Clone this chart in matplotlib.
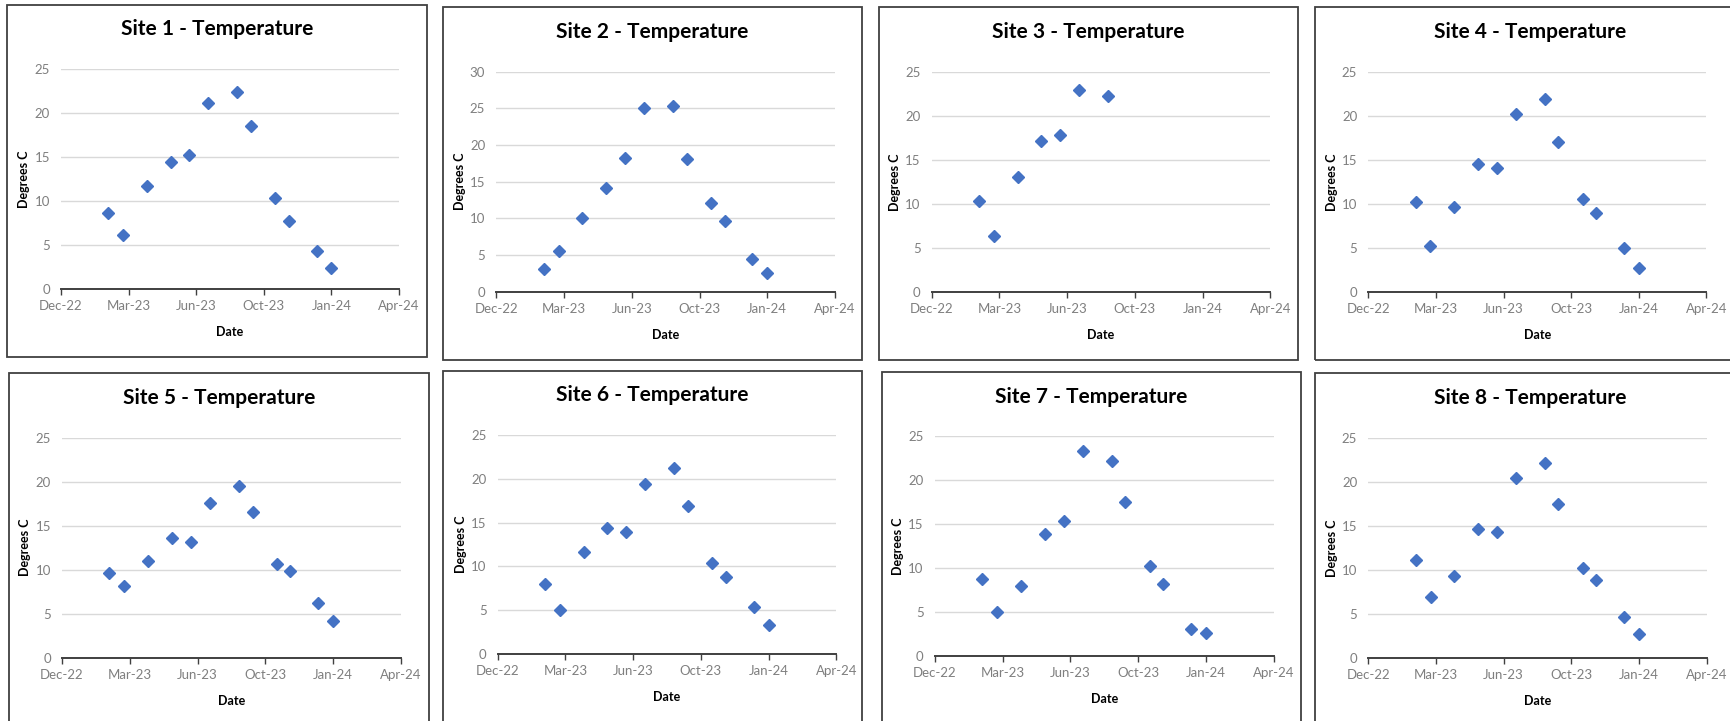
import numpy as np
import pandas as pd
import matplotlib
matplotlib.use('Agg')
import matplotlib.pyplot as plt
import matplotlib.dates as mdates
from matplotlib.patches import Rectangle

# --- data ---
dates = pd.to_datetime([
    '2023-02-13', '2023-03-07', '2023-04-11', '2023-05-16', '2023-06-13', '2023-07-11',
    '2023-08-23', '2023-09-12', '2023-10-18', '2023-11-07', '2023-12-18', '2024-01-09',
])

site1 = [8.6, 6.2, 11.7, 14.5, 15.2, 21.2, 22.4, 18.5, 10.4, 7.7, 4.3, 2.4]
site2 = [3.1, 5.6, 10.0, 14.1, 18.2, 25.0, 25.3, 18.1, 12.1, 9.7, 4.5, 2.6]
site3 = [10.3, 6.4, 13.1, 17.1, 17.8, 22.9, 22.2]
site4 = [10.2, 5.2, 9.7, 14.6, 14.1, 20.2, 21.9, 17.1, 10.6, 9.0, 5.0, 2.7]
site5 = [9.6, 8.1, 11.0, 13.6, 13.2, 17.6, 19.5, 16.6, 10.6, 9.8, 6.2, 4.2]
site6 = [8.0, 5.1, 11.7, 14.4, 13.9, 19.4, 21.2, 16.9, 10.4, 8.8, 5.4, 3.3]
site7 = [8.8, 5.0, 8.0, 13.9, 15.4, 23.3, 22.2, 17.5, 10.3, 8.2, 3.1, 2.7]
site8 = [11.1, 6.9, 9.3, 14.7, 14.3, 20.5, 22.2, 17.5, 10.2, 8.8, 4.6, 2.7]

sites = [site1, site2, site3, site4, site5, site6, site7, site8]
ymax = [25, 30, 25, 25, 25, 25, 25, 25]

# --- layout in pixels (left, top, right, bottom) for box and plot area ---
W, H = 1730, 721
boxes = [
    (7, 5, 427, 357), (443, 7, 862, 360), (879, 7, 1298, 360), (1315, 7, 1745, 360),
    (9, 373, 429, 735), (443, 371, 862, 735), (882, 372, 1301, 735), (1315, 373, 1745, 735),
]
plots = [  # x_left, x_right, y_zero, y_top
    (61, 399, 289, 69.3), (496.3, 835, 291.7, 71.7), (931.7, 1270.3, 292, 71.7),
    (1368.3, 1706.3, 292, 72), (62, 401, 657.7, 437.7), (497.7, 836.3, 654.3, 434.7),
    (934.7, 1273.7, 656.3, 436.3), (1368.3, 1706.7, 657.7, 438.3),
]
title_y = [29, 32, 32, 32, 397.7, 395, 396.7, 398.3]

BLUE = '#4472C4'
GREY_TXT = '#7f7f7f'
plt.rcParams['font.family'] = ['Lato', 'DejaVu Sans']

fig = plt.figure(figsize=(W / 100, H / 100), dpi=100)
fig.patch.set_facecolor('white')

xticks = pd.date_range('2022-12-05', periods=6, freq='100D')

for i, vals in enumerate(sites):
    bl, bt, br, bb = boxes[i]
    fig.patches.append(Rectangle((bl / W, 1 - bb / H), (br - bl) / W, (bb - bt) / H,
                                 transform=fig.transFigure, fill=False,
                                 edgecolor='#404040', linewidth=1.3))
    fig.text((bl + br) / 2 / W, 1 - title_y[i] / H, f'Site {i + 1} - Temperature',
             ha='center', va='center', fontsize=15, fontweight='bold', color='black')

    xl, xr, y0, yt = plots[i]
    ax = fig.add_axes([xl / W, 1 - y0 / H, (xr - xl) / W, (y0 - yt) / H])
    ax.plot(dates[:len(vals)], vals, linestyle='none', marker='D', markersize=6,
            color=BLUE, zorder=3)

    ax.set_xlim(xticks[0], xticks[-1])
    ax.set_ylim(0, ymax[i])
    ax.set_xticks(xticks)
    ax.xaxis.set_major_formatter(mdates.DateFormatter('%b-%y'))
    ax.set_yticks(np.arange(0, ymax[i] + 1, 5))
    ax.grid(axis='y', color='#d9d9d9', linewidth=1)
    ax.set_axisbelow(True)
    for s in ['top', 'right', 'left']:
        ax.spines[s].set_visible(False)
    ax.spines['bottom'].set_color('#404040')
    ax.spines['bottom'].set_linewidth(1.4)
    ax.tick_params(axis='x', colors='#404040', length=4, width=1, direction='out',
                   labelcolor=GREY_TXT, labelsize=9.5, pad=4)
    ax.tick_params(axis='y', length=0, labelcolor=GREY_TXT, labelsize=9.5, pad=8)
    ax.set_xlabel('Date', fontsize=9, fontweight='bold', labelpad=10)
    ax.set_ylabel('Degrees C', fontsize=9, fontweight='bold', labelpad=3)

fig.savefig('out.png', dpi=100)
